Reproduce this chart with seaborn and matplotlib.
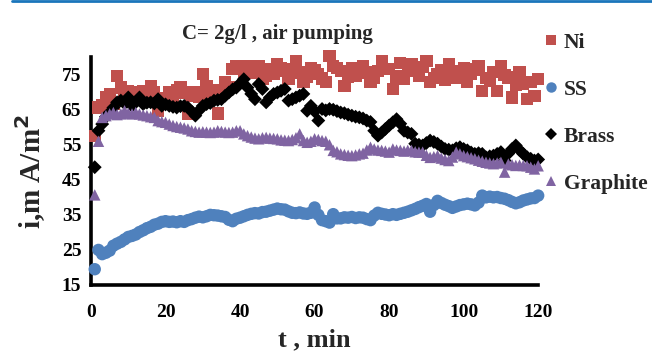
import numpy as np
import pandas as pd
import seaborn as sns
import matplotlib.pyplot as plt
from matplotlib.lines import Line2D

# time in minutes
t = list(range(1, 121))

ni = [57.6, 65.6, 66.2, 68.5, 69.5, 66.7, 74.7, 71.3, 69.0, 70.2,
      69.9, 68.3, 69.0, 70.4, 69.6, 71.8, 69.9, 64.7, 68.2, 67.5,
      69.9, 68.5, 70.6, 71.3, 69.9, 63.9, 69.0, 69.9, 68.8, 75.1,
      71.8, 69.9, 70.5, 63.9, 70.2, 72.8, 71.5, 76.6, 77.5, 76.6,
      75.8, 77.5, 75.6, 76.2, 77.5, 73.9, 74.7, 76.6, 75.2, 78.0,
      76.8, 76.1, 73.7, 76.5, 78.9, 75.6, 72.8, 74.5, 77.0, 76.2,
      75.1, 73.9, 72.8, 80.4, 77.5, 76.8, 76.1, 71.8, 74.5, 77.0,
      74.7, 76.3, 77.5, 75.6, 72.8, 74.2, 76.0, 78.9, 76.6, 76.6,
      70.9, 74.5, 78.4, 73.7, 76.0, 78.0, 76.3, 74.7, 77.2, 78.9,
      72.8, 74.0, 75.1, 76.4, 73.6, 78.0, 76.1, 74.2, 75.5, 77.0,
      72.8, 75.3, 76.5, 77.5, 70.4, 74.0, 73.2, 75.8, 70.4, 77.5,
      75.0, 74.2, 68.5, 72.0, 75.6, 72.3, 68.0, 73.0, 69.0, 73.7]

ss = [19.5, 25.0, 23.8, 24.2, 24.8, 26.2, 26.8, 27.3, 28.0, 28.7,
      29.0, 29.4, 30.1, 30.6, 31.2, 31.6, 32.2, 32.5, 33.0, 33.2,
      33.0, 33.1, 32.9, 33.2, 33.0, 33.5, 33.8, 34.2, 34.5, 34.3,
      34.6, 35.0, 34.9, 34.8, 34.6, 34.4, 33.6, 33.2, 33.9, 34.2,
      34.6, 35.0, 35.3, 35.5, 35.4, 35.8, 35.9, 36.2, 36.5, 36.8,
      36.6, 36.5, 36.0, 35.6, 35.5, 35.7, 35.4, 35.3, 35.6, 37.1,
      35.0, 33.5, 33.2, 32.8, 35.2, 34.0, 34.0, 34.3, 34.2, 34.4,
      34.1, 34.3, 34.2, 33.8, 33.5, 34.8, 35.6, 35.3, 35.1, 34.9,
      35.2, 35.0, 35.3, 35.6, 35.9, 36.3, 36.7, 37.2, 37.6, 38.1,
      35.9, 37.8, 39.0, 38.4, 37.9, 37.5, 37.0, 37.4, 37.8, 38.0,
      38.2, 38.0, 37.7, 38.5, 40.5, 40.0, 40.2, 40.0, 40.1, 39.8,
      39.6, 39.2, 38.7, 38.3, 38.6, 39.1, 39.4, 39.7, 39.8, 40.5]

brass = [48.6, 59.0, 60.9, 63.0, 64.2, 65.6, 67.1, 67.6, 66.8, 68.5,
         66.1, 67.2, 68.5, 66.6, 67.0, 67.1, 66.8, 68.0, 66.1, 66.5,
         66.1, 65.8, 65.6, 66.0, 66.1, 65.6, 64.5, 63.3, 64.8, 66.1,
         66.6, 66.9, 67.6, 67.8, 68.0, 69.0, 69.9, 70.8, 71.3, 72.5,
         73.7, 71.3, 69.5, 68.0, 72.3, 70.9, 67.1, 68.5, 69.5, 69.9,
         70.4, 70.9, 67.6, 68.0, 68.5, 69.0, 69.5, 64.7, 66.1, 64.5,
         61.9, 65.2, 64.8, 65.2, 65.0, 64.6, 64.2, 64.0, 63.6, 63.3,
         63.0, 62.8, 62.5, 61.9, 61.5, 59.0, 57.6, 58.5, 59.5, 60.5,
         61.4, 62.3, 61.0, 59.0, 58.5, 58.1, 55.3, 55.0, 54.8, 55.5,
         56.2, 55.8, 55.3, 54.5, 53.8, 53.6, 53.4, 54.0, 54.3, 53.8,
         53.4, 52.8, 52.4, 52.6, 52.4, 51.4, 51.7, 51.9, 52.4, 52.9,
         50.5, 52.5, 53.8, 54.8, 53.5, 52.4, 51.5, 51.0, 50.5, 50.8]

graphite = [40.7, 56.0, 62.8, 63.3, 63.8, 64.2, 63.6, 63.8, 64.7, 64.0,
            63.8, 64.2, 63.8, 63.5, 63.3, 63.0, 62.8, 61.9, 61.6, 61.4,
            60.9, 60.5, 60.2, 60.0, 59.8, 59.5, 59.0, 58.8, 58.6, 58.7,
            58.6, 58.5, 58.6, 59.0, 58.8, 58.6, 58.5, 58.6, 59.0, 59.0,
            58.1, 57.6, 57.2, 56.9, 56.7, 57.0, 57.1, 56.9, 56.8, 56.7,
            56.4, 56.3, 56.2, 56.5, 57.0, 58.1, 56.2, 55.7, 56.0, 56.7,
            56.5, 56.2, 56.0, 55.0, 53.4, 53.0, 52.4, 52.2, 52.0, 51.9,
            52.1, 52.4, 52.6, 53.5, 54.3, 53.8, 53.5, 53.4, 53.2, 52.9,
            53.8, 53.5, 53.4, 53.2, 53.4, 53.4, 53.0, 52.9, 52.9, 52.0,
            51.4, 51.6, 51.9, 51.2, 50.8, 50.5, 51.5, 52.9, 52.4, 51.9,
            51.6, 51.3, 51.0, 50.6, 50.3, 50.0, 49.8, 49.6, 49.8, 50.0,
            47.2, 49.5, 49.3, 49.1, 49.2, 49.1, 49.0, 48.6, 48.1, 49.0]

labels = ["Ni", "SS", "Brass", "Graphite"]
colors = {"Ni": "#C0504D", "SS": "#4F81BD", "Brass": "#000000", "Graphite": "#8064A2"}
markers = {"Ni": "s", "SS": "o", "Brass": "D", "Graphite": "^"}
sizes = {"Ni": 78, "SS": 80, "Brass": 50, "Graphite": 68}

df = pd.concat([pd.DataFrame({"t": t, "i": v, "metal": name})
                for name, v in zip(labels, [ni, ss, brass, graphite])])

sns.set_style("white")
plt.rcParams["font.family"] = ["Liberation Serif", "DejaVu Serif"]
plt.rcParams["font.weight"] = "bold"

fig = plt.figure(figsize=(6.52, 3.57), dpi=100)
ax = fig.add_axes([0.1396, 0.2017, 0.8254 - 0.1396, 0.840 - 0.2017])

for name in labels:
    sns.scatterplot(data=df[df.metal == name], x="t", y="i", color=colors[name],
                    marker=markers[name], s=sizes[name], edgecolor="none",
                    ax=ax, clip_on=False, zorder=3, legend=False)

ax.set_xlim(0, 120)
ax.set_ylim(15, 80)
ax.set_xticks(range(0, 121, 20))
ax.set_yticks(range(15, 76, 10))
ax.tick_params(axis="both", direction="out", length=5, width=2, colors="black",
               labelsize=14)
ax.tick_params(axis="x", pad=9)
ax.tick_params(axis="y", pad=2)
for lab in ax.get_xticklabels() + ax.get_yticklabels():
    lab.set_fontweight("bold")

for side in ["top", "right"]:
    ax.spines[side].set_visible(False)
for side in ["left", "bottom"]:
    ax.spines[side].set_linewidth(2.6)
    ax.spines[side].set_color("black")

ax.set_xlabel("t , min", fontsize=19, fontweight="bold", labelpad=5)
ax.set_ylabel("i,m A/m$^\\mathbf{2}$", fontsize=21, fontweight="bold", labelpad=10)

fig.text(0.425, 0.905, "C= 2g/l , air pumping", ha="center", va="center",
         fontsize=15, fontweight="bold")

handles = [Line2D([], [], linestyle="none", marker=markers[n], color=colors[n],
                  markersize=7.5 if n != "Brass" else 6.5, markeredgewidth=0) for n in labels]
ax.legend(handles, labels, loc="upper left", bbox_to_anchor=(0.822, 0.932),
          bbox_transform=fig.transFigure, frameon=False,
          prop={"weight": "bold", "size": 15.5}, handlelength=0.6,
          handletextpad=0.3, labelspacing=1.25, borderaxespad=0)

fig.add_artist(Line2D([0.018, 1.0], [0.996, 0.996], color="#1A75BB", lw=2,
                      transform=fig.transFigure))

fig.savefig("out.png", dpi=100)
